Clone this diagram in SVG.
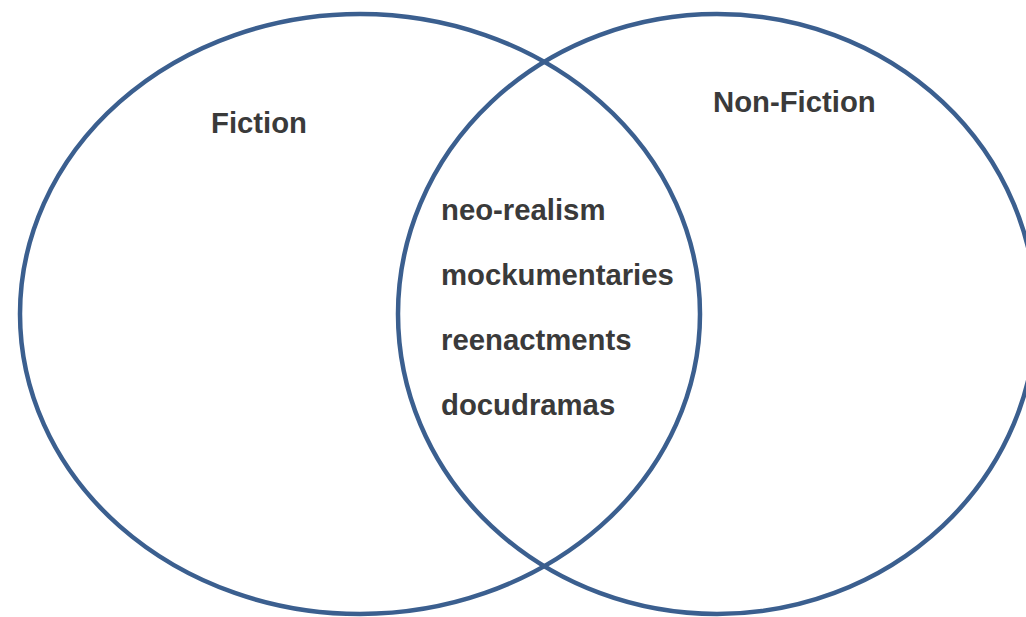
<svg xmlns="http://www.w3.org/2000/svg" width="1026" height="617" viewBox="0 0 1026 617">
<style>
.c{fill:none;stroke:#3B5F8F;stroke-width:4.5}
.t{font-family:"Liberation Sans",Arial,sans-serif;font-weight:bold;font-size:29.3px;fill:#3A3A3A}
</style>
<rect width="1026" height="617" fill="#FFFFFF"/>
<g id="fiction">
<ellipse class="c" cx="360" cy="314" rx="340" ry="300"/>
<text class="t" x="211" y="133">Fiction</text>
</g>
<g id="nonfiction">
<ellipse class="c" cx="717" cy="314" rx="319" ry="300"/>
<text class="t" x="713" y="112">Non-Fiction</text>
</g>
<g id="overlap">
<text class="t" x="441" y="220">neo-realism</text>
<text class="t" x="441" y="285">mockumentaries</text>
<text class="t" x="441" y="350">reenactments</text>
<text class="t" x="441" y="415">docudramas</text>
</g>
<g id="connectors"/>
</svg>
